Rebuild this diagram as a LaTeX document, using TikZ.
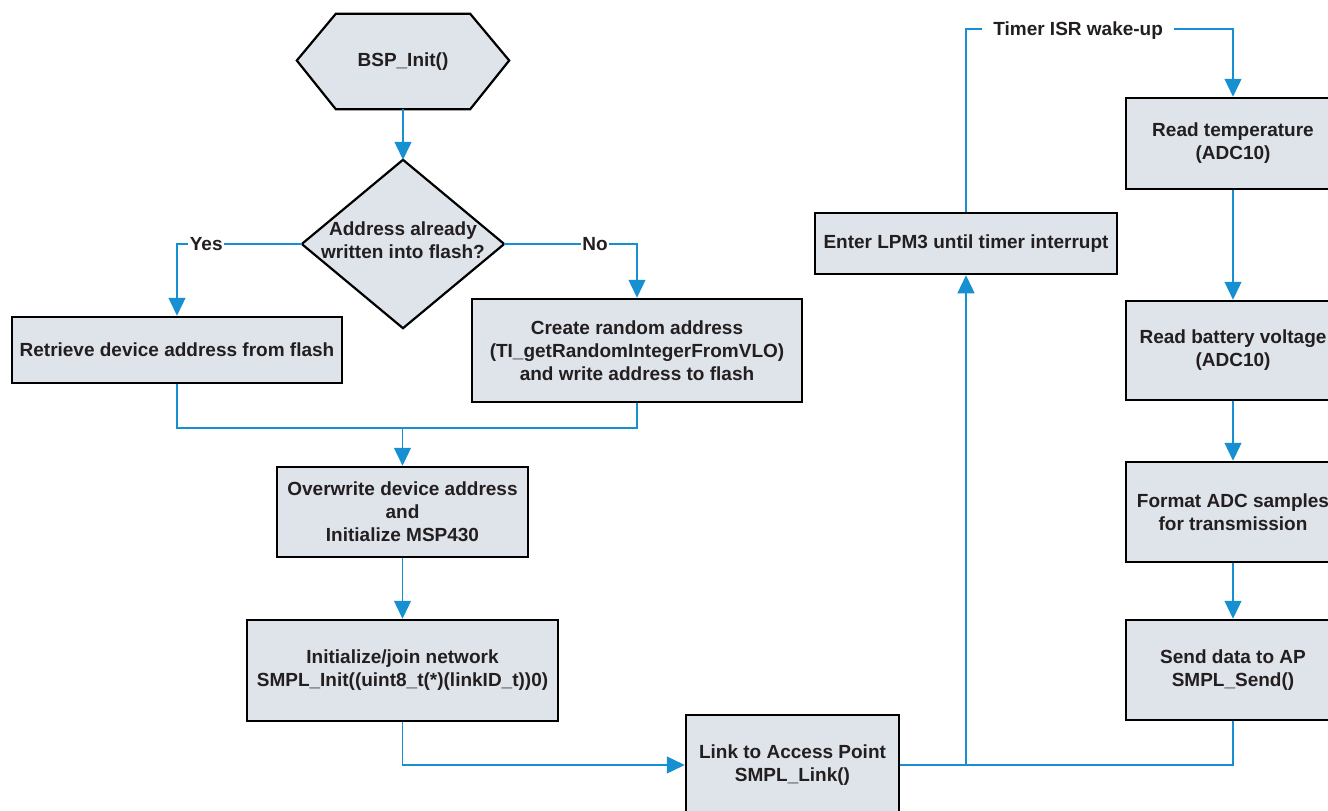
\documentclass[tikz,border=0pt]{standalone}
\usepackage{fontspec}
\setmainfont{Liberation Sans}
\usetikzlibrary{arrows.meta,backgrounds}
\definecolor{boxfill}{RGB}{223,228,234}
\definecolor{flow}{RGB}{22,144,208}
\definecolor{txt}{RGB}{35,31,32}
\begin{document}
\begin{tikzpicture}[x=1pt,y=-1pt,
  every node/.style={font=\fontsize{19}{23}\selectfont\bfseries, text=txt},
  box/.style={draw=black, line width=2.5pt, fill=boxfill, align=center, inner sep=0pt},
  shapebg/.style={draw=black, line width=2.2pt, fill=boxfill, line join=miter},
  flowline/.style={draw=flow, line width=1.3pt},
  conn/.style={flowline, -{Triangle[length=18pt,width=17pt]}},
  lbl/.style={fill=white, inner xsep=1.5pt, inner ysep=1pt},
  lblwide/.style={fill=white, inner xsep=11pt, inner ysep=1pt},
]
\useasboundingbox (0,0) rectangle (1328,811);
\clip (0,0) rectangle (1328,811);

% start and decision
\node[align=center, minimum width=212pt, minimum height=95pt, inner sep=0pt] (bsp) at (403,61.5) {BSP\_Init()};
\node[minimum width=202pt, minimum height=168pt, inner sep=0pt] (dec) at (403,244) {};
\begin{scope}[on background layer]
  \path[shapebg] ([yshift=1pt]bsp.west) -- ([xshift=39pt]bsp.north west) -- ([xshift=-39pt]bsp.north east)
    -- ([yshift=1pt]bsp.east) -- ([xshift=-39pt]bsp.south east) -- ([xshift=39pt]bsp.south west) -- cycle;
  \path[shapebg] (dec.north) -- (dec.east) -- (dec.south) -- (dec.west) -- cycle;
\end{scope}
\node[align=center, inner sep=0pt] (dectext) at (403,240) {Address already\\written into flash?};

% boxes
\node[box, minimum width=330pt, minimum height=66pt] (retrieve) at (177,350) {Retrieve device address from flash};
\node[box, minimum width=330pt, minimum height=103pt] (create) at (637,350.5) {Create random address\\(TI\_getRandomIntegerFromVLO)\\and write address to flash};
\node[box, minimum width=251pt, minimum height=90pt] (overwrite) at (402.5,512) {Overwrite device address\\and\\Initialize MSP430};
\node[box, minimum width=311pt, minimum height=101pt] (init) at (402.5,670.5) {Initialize/join network\\SMPL\_Init((uint8\_t(*)(linkID\_t))0)};
\node[box, minimum width=213pt, minimum height=100pt] (link) at (792.5,765) {Link to Access Point\\SMPL\_Link()};
\node[box, minimum width=302pt, minimum height=61pt] (lpm) at (966,243.5) {Enter LPM3 until timer interrupt};
\node[box, minimum width=214pt, minimum height=91pt] (temp) at (1233,143.5) {Read temperature\\(ADC10)};
\node[box, minimum width=214pt, minimum height=99pt] (batt) at (1233,350.5) {Read battery voltage\\(ADC10)};
\node[box, minimum width=214pt, minimum height=100pt] (fmt) at (1233,512) {Format ADC samples\\for transmission};
\node[box, minimum width=214pt, minimum height=100pt] (send) at (1233,670) {Send data to AP\\SMPL\_Send()};

% helper coordinates
\coordinate (merge) at (402.5,428);
\coordinate (wake) at (1233,29);

% connectors
\draw[conn] (bsp.south) -- (dec.north);
\draw[conn] (dec.west) -| node[lbl, pos=0.383] {Yes} (retrieve.north);
\draw[conn] (dec.east) -| node[lbl, pos=0.342] {No} (create.north);
\draw[flowline] (retrieve.south) |- (merge) -| (create.south);
\draw[conn] (merge) -- (overwrite.north);
\draw[conn] (overwrite.south) -- (init.north);
\draw[conn] (init.south) |- (link.west);
\draw[flowline] (link.east) -| (send.south);
\draw[conn] (lpm.south |- link.east) -- (lpm.south);
\draw[conn] (lpm.north) |- node[lblwide, pos=0.71, yshift=-1.5pt] {Timer ISR wake-up} (wake) -- (temp.north);
\draw[conn] (temp.south) -- (batt.north);
\draw[conn] (batt.south) -- (fmt.north);
\draw[conn] (fmt.south) -- (send.north);
\end{tikzpicture}
\end{document}
